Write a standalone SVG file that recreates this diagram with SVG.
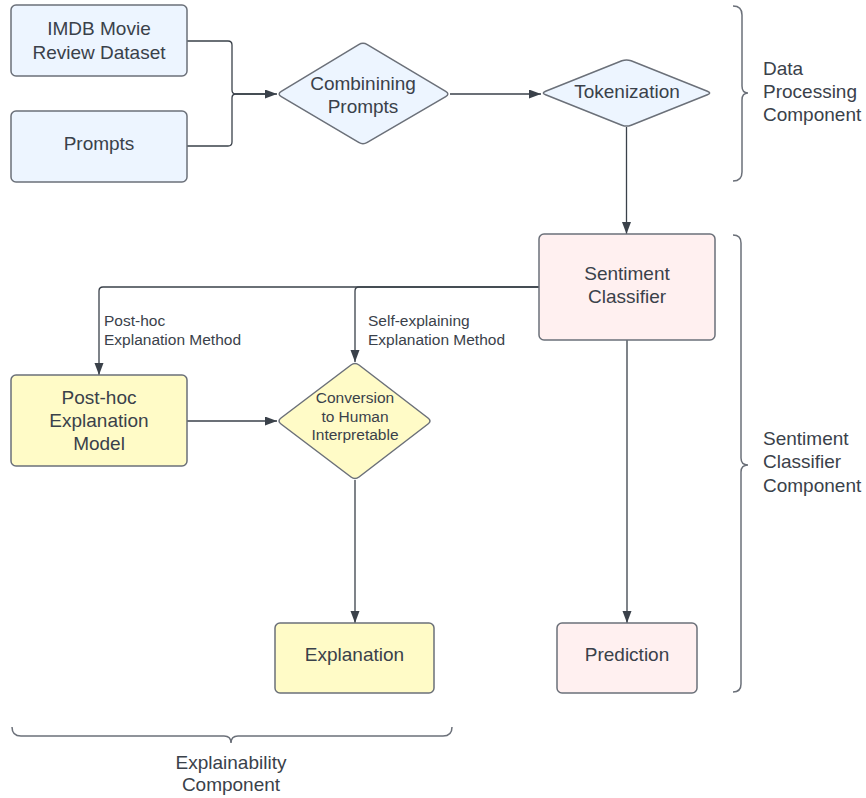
<svg xmlns="http://www.w3.org/2000/svg" width="866" height="798" viewBox="0 0 866 798">
<style>
text{font-family:"Liberation Sans",Arial,sans-serif;fill:#3a414a;text-anchor:middle}
.n{font-size:19px}
.s{font-size:15.5px}
.l{text-anchor:start}
.box{stroke:#6b7079;stroke-width:1.5}
.blue{fill:#edf5ff}
.yel{fill:#fffbc7}
.pink{fill:#fff0f0}
.c{fill:none;stroke:#3a414a;stroke-width:1.3}
.br{fill:none;stroke:#6b7079;stroke-width:1.5}
</style>
<defs>
<marker id="a" markerUnits="userSpaceOnUse" markerWidth="13" markerHeight="10" refX="12" refY="4.5" orient="auto">
<path d="M0,0 L12,4.5 L0,9 z" fill="#3a414a"/>
</marker>
</defs>
<rect width="866" height="798" fill="#fff"/>
<g id="connectors">
<path class="c" d="M187,41 H228 Q232,41 232,45 V90 Q232,94 236,94 H277" marker-end="url(#a)"/>
<path class="c" d="M187,146 H228 Q232,146 232,142 V98 Q232,94 236,94 H265"/>
<path class="c" d="M450,94 H541" marker-end="url(#a)"/>
<path class="c" d="M626.5,127 V234" marker-end="url(#a)"/>
<path class="c" d="M539,287 H103 Q99,287 99,291 V375" marker-end="url(#a)"/>
<path class="c" d="M539,287 H359 Q355,287 355,291 V362" marker-end="url(#a)"/>
<path class="c" d="M187,421 H277" marker-end="url(#a)"/>
<path class="c" d="M355,480 V623" marker-end="url(#a)"/>
<path class="c" d="M627,340 V623" marker-end="url(#a)"/>
<text class="s l" x="104" y="326">Post-hoc</text>
<text class="s l" x="104" y="345">Explanation Method</text>
<text class="s l" x="368" y="326">Self-explaining</text>
<text class="s l" x="368" y="345">Explanation Method</text>
</g>
<g id="imdb">
<rect class="box blue" x="11" y="5" width="176" height="71" rx="5"/>
<text class="n" x="99" y="35">IMDB Movie</text>
<text class="n" x="99" y="59">Review Dataset</text>
</g>
<g id="prompts">
<rect class="box blue" x="11" y="111" width="176" height="71" rx="5"/>
<text class="n" x="99" y="150">Prompts</text>
</g>
<g id="combining">
<path class="box blue" d="M281.3,91.4 L358.7,44.6 Q363,42 367.3,44.6 L445.7,91.4 Q450,94 445.7,96.6 L367.3,142.4 Q363,145 358.7,142.4 L281.3,96.6 Q277,94 281.3,91.4 Z"/>
<text class="n" x="363" y="90">Combinining</text>
<text class="n" x="363" y="113">Prompts</text>
</g>
<g id="tokenization">
<path class="box blue" d="M545.6,91.2 L621.9,60.8 Q626.5,59 631.1,60.8 L707.4,91.2 Q712,93 707.4,94.8 L631.1,125.2 Q626.5,127 621.9,125.2 L545.6,94.8 Q541,93 545.6,91.2 Z"/>
<text class="n" x="627" y="98">Tokenization</text>
</g>
<g id="sentiment">
<rect class="box pink" x="539" y="234" width="176" height="106" rx="5"/>
<text class="n" x="627" y="280">Sentiment</text>
<text class="n" x="627" y="303">Classifier</text>
</g>
<g id="posthoc">
<rect class="box yel" x="11" y="375" width="176" height="91" rx="5"/>
<text class="n" x="99" y="404">Post-hoc</text>
<text class="n" x="99" y="427">Explanation</text>
<text class="n" x="99" y="450">Model</text>
</g>
<g id="conversion">
<path class="box yel" d="M281,418 L351,365 Q355,362 359,365 L428,418 Q432,421 428,424 L359,477 Q355,480 351,477 L281,424 Q277,421 281,418 Z"/>
<text class="s" x="355" y="403">Conversion</text>
<text class="s" x="355" y="421.5">to Human</text>
<text class="s" x="355" y="440">Interpretable</text>
</g>
<g id="explanation">
<rect class="box yel" x="275" y="623" width="159" height="70" rx="5"/>
<text class="n" x="354.5" y="661">Explanation</text>
</g>
<g id="prediction">
<rect class="box pink" x="557" y="623" width="140" height="70" rx="5"/>
<text class="n" x="627" y="661">Prediction</text>
</g>
<g id="data-processing-brace">
<path class="br" d="M733,6 Q742,6 742,15 V86 Q742,93 748,93 Q742,93 742,100 V172 Q742,181 733,181"/>
<text class="n l" x="763" y="75">Data</text>
<text class="n l" x="763" y="98">Processing</text>
<text class="n l" x="763" y="121">Component</text>
</g>
<g id="sentiment-brace">
<path class="br" d="M733,235 Q741,235 741,243 V458 Q741,465 748,465 Q741,465 741,472 V684 Q741,692 733,692"/>
<text class="n l" x="763" y="445">Sentiment</text>
<text class="n l" x="763" y="468">Classifier</text>
<text class="n l" x="763" y="492">Component</text>
</g>
<g id="explainability-brace">
<path class="br" d="M12,727 Q12,736 21,736 H224 Q231,736 231,743 Q231,736 238,736 H443 Q452,736 452,727"/>
<text class="n" x="231" y="769">Explainability</text>
<text class="n" x="231" y="791">Component</text>
</g>
</svg>
